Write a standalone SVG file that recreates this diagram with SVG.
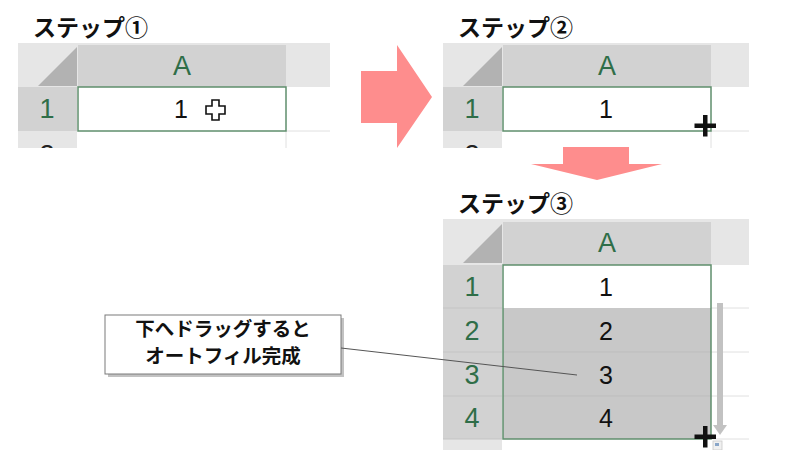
<svg xmlns="http://www.w3.org/2000/svg" width="800" height="450" viewBox="0 0 800 450">
<style>
.title{font-family:"Noto Sans CJK JP","Noto Sans",sans-serif;font-weight:bold;font-size:23px;fill:#111}
.hdr{font-family:"Liberation Sans","Noto Sans",sans-serif;font-size:27px;fill:#2f6e48;text-anchor:middle}
.val{font-family:"Liberation Sans","Noto Sans",sans-serif;font-size:25px;fill:#111;text-anchor:middle}
.band{fill:#e6e6e6}
.sel{fill:#d2d2d2}
.tri{fill:#b2b2b2}
.grid{stroke:#e0e0e0;stroke-width:1;fill:none}
.sep{stroke:#c4c4c4;stroke-width:1;fill:none}
.selbox{fill:none;stroke:#5f8e6c;stroke-width:1.5}
.pink{fill:#fe8d8d}
.callout{font-family:"Noto Sans CJK JP","Noto Sans",sans-serif;font-weight:bold;font-size:19.5px;fill:#111;text-anchor:middle}
</style>
<defs>
<clipPath id="c1"><rect x="0" y="0" width="800" height="148"/></clipPath>
<clipPath id="c3"><rect x="0" y="0" width="800" height="450"/></clipPath>
</defs>

<!-- Step 1 -->
<g id="step1">
<text class="title" x="33" y="36">ステップ①</text>
<rect class="band" x="18" y="43" width="312" height="44"/>
<polygon class="tri" points="38,86 77,86 77,47"/>
<rect class="sel" x="78" y="45" width="208" height="42"/>
<text class="hdr" x="182" y="75">A</text>
<rect class="sel" x="18" y="87" width="59" height="44"/>
<rect class="band" x="18" y="131" width="59" height="17"/>
<line class="grid" x1="286" y1="131" x2="330" y2="131"/>
<line class="grid" x1="286" y1="131" x2="286" y2="148"/>
<rect x="78" y="87" width="208" height="44" fill="#fff"/>
<rect class="selbox" x="78" y="87" width="208" height="44"/>
<text class="hdr" x="47" y="118">1</text>
<g clip-path="url(#c1)"><text class="hdr" x="47" y="164" style="fill:#222">2</text></g>
<text class="val" x="181" y="118">1</text>
<path d="M212,100 h7 v6 h6 v8 h-6 v6 h-7 v-6 h-6 v-8 h6 z" fill="#fff" stroke="#111" stroke-width="1.6"/>
</g>

<!-- Step 2 -->
<g id="step2">
<text class="title" x="458" y="36">ステップ②</text>
<rect class="band" x="443" y="43" width="306" height="44"/>
<polygon class="tri" points="463,86 502,86 502,47"/>
<rect class="sel" x="503" y="45" width="208" height="42"/>
<text class="hdr" x="607" y="75">A</text>
<rect class="sel" x="443" y="87" width="59" height="44"/>
<rect class="band" x="443" y="131" width="59" height="17"/>
<line class="grid" x1="711" y1="131" x2="749" y2="131"/>
<line class="grid" x1="711" y1="131" x2="711" y2="148"/>
<rect x="503" y="87" width="208" height="44" fill="#fff"/>
<rect class="selbox" x="503" y="87" width="208" height="44"/>
<text class="hdr" x="472" y="118">1</text>
<g clip-path="url(#c1)"><text class="hdr" x="472" y="164" style="fill:#222">2</text></g>
<text class="val" x="606" y="118">1</text>
<path d="M703,115 h4.5 v8.5 h8.5 v4.5 h-8.5 v8.5 h-4.5 v-8.5 h-8.5 v-4.5 h8.5 z" fill="#111"/>
</g>

<!-- Step 3 -->
<g id="step3">
<text class="title" x="458" y="212">ステップ③</text>
<rect class="band" x="443" y="219" width="306" height="46"/>
<polygon class="tri" points="463,263 502,263 502,224"/>
<rect class="sel" x="503" y="222" width="208" height="43"/>
<text class="hdr" x="607" y="252">A</text>
<rect class="sel" x="443" y="265" width="59" height="174"/>
<rect class="band" x="443" y="439" width="59" height="11"/>
<line class="sep" x1="443" y1="308" x2="502" y2="308"/>
<line class="sep" x1="443" y1="352" x2="502" y2="352"/>
<line class="sep" x1="443" y1="396" x2="502" y2="396"/>
<line class="sep" x1="443" y1="439" x2="502" y2="439"/>
<line class="grid" x1="711" y1="308" x2="749" y2="308"/>
<line class="grid" x1="711" y1="352" x2="749" y2="352"/>
<line class="grid" x1="711" y1="396" x2="749" y2="396"/>
<line class="grid" x1="711" y1="439" x2="749" y2="439"/>
<rect x="503" y="265" width="208" height="43" fill="#fff"/>
<rect x="503" y="308" width="208" height="131" fill="#c8c8c8"/>
<line x1="503" y1="352" x2="711" y2="352" stroke="#bdbdbd"/>
<line x1="503" y1="396" x2="711" y2="396" stroke="#bdbdbd"/>
<rect class="selbox" x="503" y="265" width="208" height="174"/>
<text class="hdr" x="472" y="296">1</text>
<text class="hdr" x="472" y="340">2</text>
<text class="hdr" x="472" y="384">3</text>
<text class="hdr" x="472" y="427">4</text>
<g clip-path="url(#c3)"><text class="hdr" x="472" y="471" style="fill:#222">5</text></g>
<text class="val" x="606" y="296">1</text>
<text class="val" x="606" y="340">2</text>
<text class="val" x="606" y="384">3</text>
<text class="val" x="606" y="427">4</text>
<rect x="717" y="303" width="6" height="124" fill="#c2c2c2"/>
<polygon points="713,425 727,425 720,435" fill="#c2c2c2"/>
<path d="M703,426 h4.5 v8.5 h8.5 v4.5 h-8.5 v8.5 h-4.5 v-8.5 h-8.5 v-4.5 h8.5 z" fill="#111"/>
<rect x="713" y="441" width="9" height="9" fill="#f0f0f0" stroke="#c8c8c8" stroke-width="0.8"/>
<rect x="715" y="443" width="4" height="3" fill="#8aa6c8"/>
</g>

<!-- Arrows -->
<g id="arrow-right">
<polygon class="pink" points="361,71 397,71 397,45 432,97 397,148 397,123 361,123"/>
</g>
<g id="arrow-down">
<polygon class="pink" points="563,147 629,147 629,164 662,164 597,180 531,164 563,164"/>
</g>

<!-- Callout -->
<g id="callout">
<rect x="108" y="318" width="236" height="59" fill="#9a9a9a" opacity="0.6"/>
<rect x="105" y="315" width="236" height="59" fill="#fff" stroke="#7a7a7a" stroke-width="1"/>
<text class="callout" x="223" y="336">下へドラッグすると</text>
<text class="callout" x="223" y="363">オートフィル完成</text>
</g>
<g id="connectors">
<line x1="341" y1="348" x2="577" y2="375" stroke="#555" stroke-width="1"/>
</g>
</svg>
